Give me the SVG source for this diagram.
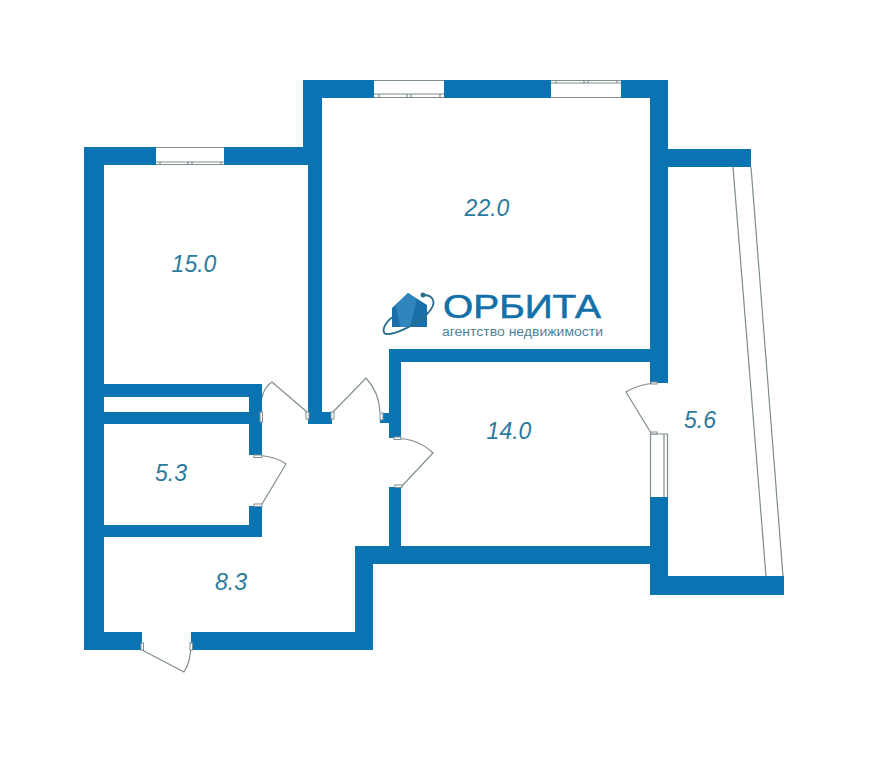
<svg xmlns="http://www.w3.org/2000/svg" width="894" height="767" viewBox="0 0 894 767">
<style>
.wall{fill:#0a74b3}
.win{fill:#fff}
.thin{fill:none;stroke:#7f8c90;stroke-width:1.2}
.frame{fill:#fff;stroke:#7f8c90;stroke-width:1}
.area{font-family:"Liberation Sans",Arial,sans-serif;font-style:italic;font-size:23px;fill:#2b7a9e;text-anchor:middle}
</style>
<rect width="894" height="767" fill="#fff"/>
<g id="walls">
<path class="wall" d="M84 147H303V80H668V149H751V167H668V383H650V362H401V438H389V423H380V413H389V349H650V98H322V412H332V424H308V165H104V384H262V455H249V397H104V412H249V424H104V525H249V506H262V537H104V632H142V650H84Z"/>
<path class="wall" d="M389 487H401V546H650V497H668V576H784V595H650V564H373V650H191V632H355V546H389Z"/>
</g>
<g id="windows">
<rect class="win" x="374" y="80" width="70" height="18"/>
<path class="thin" d="M374 80.500H444M374 94H444M374 97.500H444M379 94V98M407 94V98M411 94V98M440 94V98"/>
<rect class="win" x="551" y="80" width="70" height="18"/>
<path class="thin" d="M551 97.500H621M551 83H621M551 80.500H621M556 80V83M584 80V83M588 80V83M617 80V83"/>
<rect class="win" x="156" y="147" width="68" height="18"/>
<path class="thin" d="M156 147.500H224M156 162H224M156 164.500H224M160 162V165M188 162V165M192 162V165M221 162V165"/>
<rect class="win" x="650" y="434" width="18" height="63"/>
<path class="thin" d="M650.500 434V497M667.500 434V497M664 434V497M650 434H668"/>
</g>
<g id="doors">
<path class="thin" d="M262 398Q264 387 272 382L307 412"/>
<path class="thin" d="M333 412L366 378Q379 392 380 412"/>
<path class="thin" d="M395 438Q419 439 433 453L402 486"/>
<path class="thin" d="M254 455Q276 456 286 464L262 504"/>
<path class="thin" d="M656 383Q639 384 626 392L651 433"/>
<path class="thin" d="M142 650L184 672Q191 662 191 642"/>
<rect class="frame" x="260" y="412" width="2.500" height="10"/>
<rect class="frame" x="306" y="412" width="3" height="7"/>
<rect class="frame" x="331" y="412" width="3" height="7"/>
<rect class="frame" x="380" y="413" width="3" height="7"/>
<rect class="frame" x="394" y="437" width="7" height="2.500"/>
<rect class="frame" x="395" y="485" width="7" height="2.500"/>
<rect class="frame" x="254" y="455" width="8" height="2.500"/>
<rect class="frame" x="254" y="504" width="8" height="2.500"/>
<rect class="frame" x="651" y="432" width="6" height="2"/>
<rect class="frame" x="651" y="382" width="6" height="2"/>
<rect class="frame" x="141" y="643" width="2.500" height="7"/>
<rect class="frame" x="190" y="643" width="2.500" height="7"/>
</g>
<g id="balcony-glazing">
<path class="thin" d="M733 167L766 576M751 167L783 576"/>
</g>
<g id="room-22"><text class="area" x="487" y="216">22.0</text></g>
<g id="room-15"><text class="area" x="194" y="272">15.0</text></g>
<g id="room-14"><text class="area" x="509" y="439">14.0</text></g>
<g id="room-5-6"><text class="area" x="700" y="428">5.6</text></g>
<g id="room-5-3"><text class="area" x="171" y="481">5.3</text></g>
<g id="room-8-3"><text class="area" x="231" y="590">8.3</text></g>
<g id="logo">
<path fill="#1b6fa8" d="M408 293L427 305V327H392V308Z"/>
<path fill="#2f86bd" d="M396 305L408 293L417 299L410 327H400Z"/>
<path fill="none" stroke="#2a6f8f" stroke-width="1.800" d="M423 295C433 295 438 302 428 313C416 325 395 335 386 334C380 332 386 321 393 317"/>
<circle cx="423" cy="295" r="2.500" fill="#2a6f8f"/>
<text x="443" y="318" font-family="'Liberation Sans',Arial,sans-serif" font-size="33" stroke="#1470a8" stroke-width="0.600" fill="#1470a8" textLength="158" lengthAdjust="spacingAndGlyphs">ОРБИТА</text>
<text x="442" y="336" font-family="'Liberation Sans',Arial,sans-serif" font-size="12" fill="#4f7f97" textLength="161" lengthAdjust="spacingAndGlyphs">агентство недвижимости</text>
</g>
</svg>
